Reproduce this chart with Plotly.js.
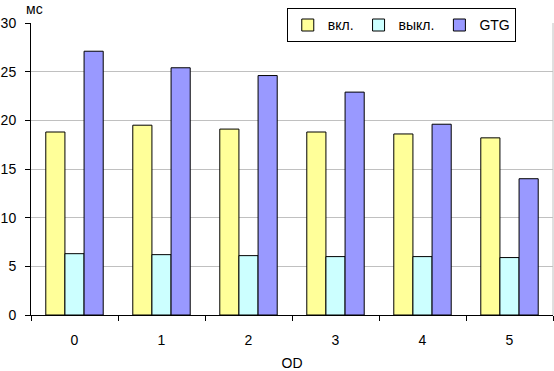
<!DOCTYPE html>
<html>
<head>
<meta charset="utf-8">
<script src="https://cdn.plot.ly/plotly-3.0.1.min.js"></script>
<style>html,body{margin:0;padding:0;background:#fff;}#chart{width:554px;height:371px;}</style>
</head>
<body>
<div id="chart"></div>
<script>
const categories = ['0', '1', '2', '3', '4', '5'];
const seriesNames = ['вкл.', 'выкл.', 'GTG'];
const vklValues = [18.8, 19.5, 19.1, 18.8, 18.6, 18.2];
const vyklValues = [6.3, 6.2, 6.1, 6.0, 6.0, 5.9];
const gtgValues = [27.1, 25.4, 24.6, 22.9, 19.6, 14.0];
const colors = ['#FFFF99', '#CCFFFF', '#9999FF'];

const allValues = [vklValues, vyklValues, gtgValues];
const traces = allValues.map((vals, i) => ({
  type: 'bar',
  name: seriesNames[i],
  x: categories,
  y: vals,
  marker: { color: colors[i], line: { color: '#000000', width: 1 } },
  hoverinfo: 'skip'
}));

const font = { family: 'Liberation Sans, Arial, sans-serif', size: 14, color: '#000' };

const layout = {
  width: 554,
  height: 371,
  margin: { l: 31, r: 1, t: 23, b: 56 },
  paper_bgcolor: '#fff',
  plot_bgcolor: '#fff',
  font: font,
  barmode: 'group',
  bargap: 0.34,
  bargroupgap: 0,
  showlegend: true,
  legend: {
    orientation: 'h',
    x: 0.49, xanchor: 'left',
    y: 1.05, yanchor: 'top',
    bordercolor: '#000', borderwidth: 1,
    bgcolor: '#fff',
    font: font,
    traceorder: 'normal'
  },
  xaxis: {
    type: 'category',
    tickson: 'boundaries',
    ticks: 'outside', ticklen: 5, tickcolor: '#000',
    showline: true, linecolor: '#000', linewidth: 1,
    showgrid: false, zeroline: false,
    ticklabelstandoff: 12,
    title: { text: 'OD', font: font, standoff: 16 },
    automargin: false
  },
  yaxis: {
    range: [0, 30], dtick: 5,
    ticks: 'outside', ticklen: 5, tickcolor: '#000',
    showline: true, linecolor: '#000', linewidth: 1,
    showgrid: true, gridcolor: '#C0C0C0', gridwidth: 1,
    zeroline: false,
    ticklabelstandoff: 6,
    automargin: false
  },
  annotations: [{
    text: 'мс', xref: 'paper', yref: 'paper',
    x: 0.006, y: 1.048, xanchor: 'center', yanchor: 'middle',
    showarrow: false, font: font
  }],
  shapes: [{
    type: 'line', xref: 'paper', yref: 'paper',
    x0: 1, x1: 1, y0: 0, y1: 1,
    line: { color: '#C0C0C0', width: 1 }
  }]
};

Plotly.newPlot('chart', traces, layout, { staticPlot: true, displayModeBar: false });
</script>
</body>
</html>
